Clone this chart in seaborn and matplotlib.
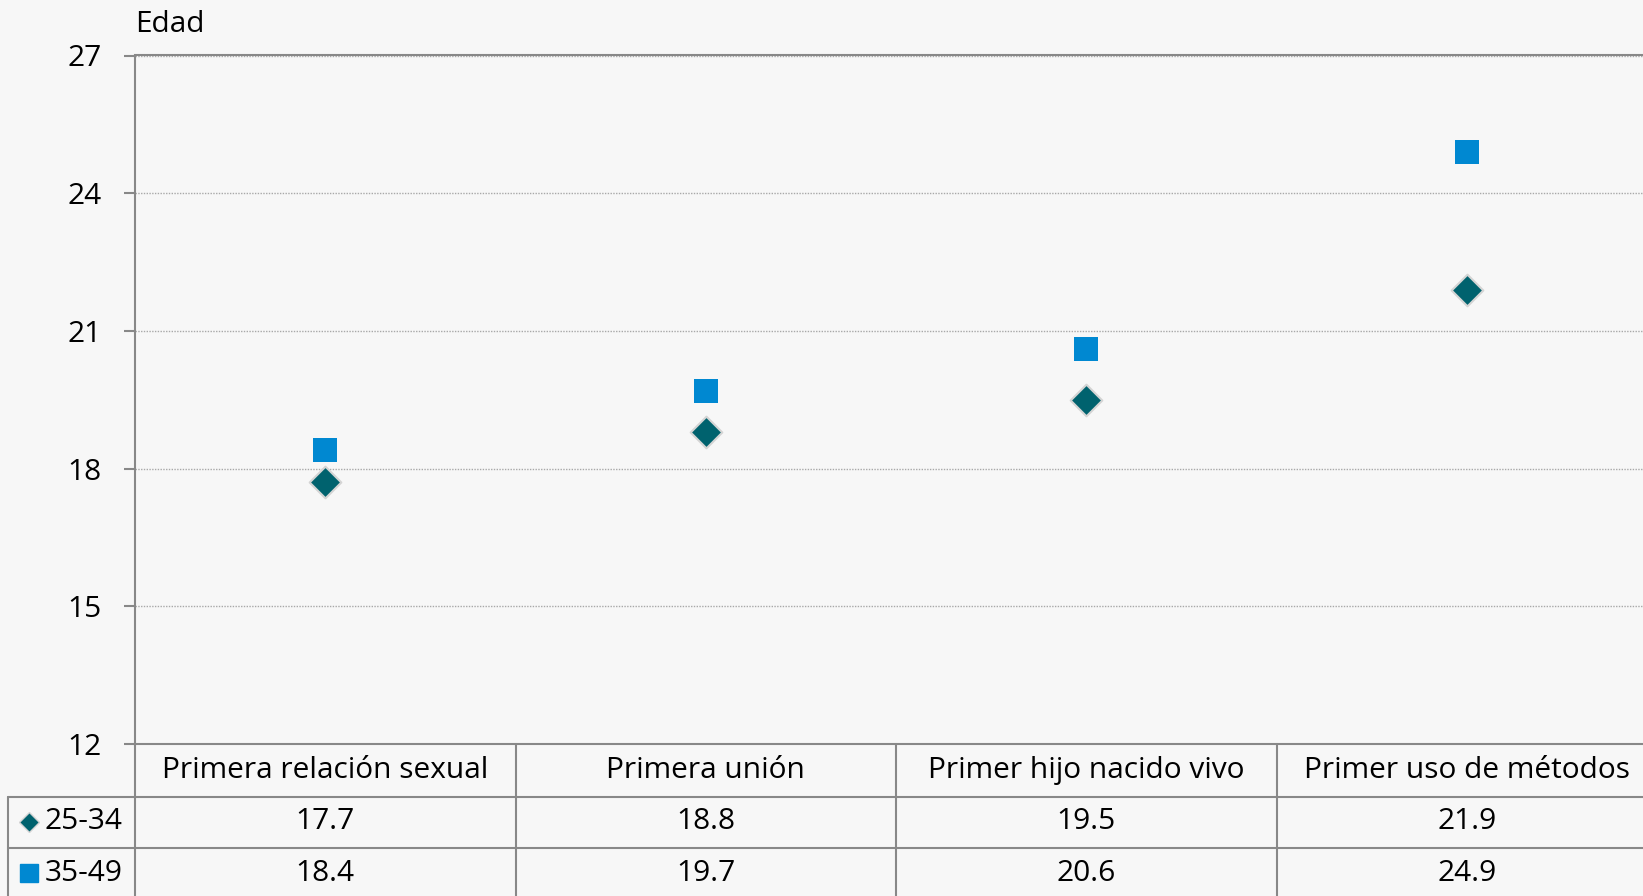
import numpy as np
import pandas as pd
import matplotlib.pyplot as plt
import seaborn as sns
from matplotlib import transforms

#%% datos
categorias = ['Primera relación sexual', 'Primera unión', 'Primer hijo nacido vivo', 'Primer uso de métodos']
grupos = ['25-34', '35-49']
edad_25_34 = [17.7, 18.8, 19.5, 21.9]
edad_35_49 = [18.4, 19.7, 20.6, 24.9]
y_ticks = [12, 15, 18, 21, 24, 27]

colores = {'25-34': '#00626E', '35-49': '#0088D1'}
marcadores = {'25-34': 'D', '35-49': 's'}
tamanos = {'25-34': 260, '35-49': 300}
bordes = {'25-34': '#D4D4D4', '35-49': 'none'}

df = pd.DataFrame({
    'categoria': categorias * 2,
    'grupo': [grupos[0]] * 4 + [grupos[1]] * 4,
    'edad': edad_25_34 + edad_35_49,
})

#%% estilo
sns.set_style('white')
plt.rcParams['font.family'] = ['Open Sans', 'DejaVu Sans']
plt.rcParams['text.color'] = 'black'
plt.rcParams['ytick.labelcolor'] = 'black'
FS = 21.5
fondo = '#F7F7F7'
gris = '#888888'

fig = plt.figure(figsize=(16.43, 8.96), dpi=100, facecolor=fondo)
ax = fig.add_axes([135 / 1643, 1 - 744 / 896, 1522 / 1643, (744 - 55.5) / 896])
ax.set_facecolor(fondo)

for g in grupos:
    sns.scatterplot(data=df[df['grupo'] == g], x='categoria', y='edad', ax=ax,
                    marker=marcadores[g], color=colores[g], s=tamanos[g],
                    edgecolor=bordes[g], linewidth=1.5, zorder=3, legend=False)

ax.set_xlim(-0.5, 3.5)
ax.set_ylim(12, 27)
ax.set_yticks(y_ticks)
ax.set_xlabel('')
ax.set_ylabel('')
ax.tick_params(axis='x', bottom=False, labelbottom=False)
ax.tick_params(axis='y', left=True, direction='out', length=8, width=1.5,
               color=gris, pad=16, labelsize=FS, labelcolor='black')
ax.yaxis.grid(True, linestyle=(0, (1, 1)), color='#A8A8A8', linewidth=1)
for s in ['left', 'top', 'bottom']:
    ax.spines[s].set_color(gris)
    ax.spines[s].set_linewidth(1.5)
ax.spines['right'].set_visible(False)

fig.text(135 / 1643, 1 - 25 / 896, 'Edad', ha='left', va='center', fontsize=FS)

#%% tabla de datos
trans = transforms.blended_transform_factory(ax.transData, ax.transAxes)
alto = 688.5
y_l1 = -53 / alto
y_l2 = -104 / alto
x_izq = (8.4 - 135) / 1522
lw = 1.5

ax.plot([x_izq, 1], [y_l1, y_l1], color=gris, lw=lw, transform=ax.transAxes, clip_on=False)
ax.plot([x_izq, 1], [y_l2, y_l2], color=gris, lw=lw, transform=ax.transAxes, clip_on=False)
ax.plot([x_izq, x_izq], [y_l1, -0.3], color=gris, lw=lw, transform=ax.transAxes, clip_on=False)
ax.plot([0, 0], [0, -0.3], color=gris, lw=lw, transform=ax.transAxes, clip_on=False)
for i in range(len(categorias) - 1):
    ax.plot([i + 0.5, i + 0.5], [0, -0.3], color=gris, lw=lw, transform=trans, clip_on=False)

y_cab = -(770 - 744) / alto
y_filas = [-(821.6 - 744) / alto, -(873 - 744) / alto]
for i, c in enumerate(categorias):
    ax.text(i, y_cab, c, transform=trans, ha='center', va='center', fontsize=FS)
for j, (g, vals) in enumerate(zip(grupos, [edad_25_34, edad_35_49])):
    for i, v in enumerate(vals):
        ax.text(i, y_filas[j], f'{v:.1f}', transform=trans, ha='center', va='center', fontsize=FS)
    ax.text((45 - 135) / 1522, y_filas[j], g, transform=ax.transAxes, ha='left', va='center', fontsize=FS)
    ax.plot([(29 - 135) / 1522], [y_filas[j]], marker=marcadores[g], color=colores[g],
            markersize=10 if g == '25-34' else 13, markeredgecolor=bordes[g] if g == '25-34' else colores[g],
            markeredgewidth=1, transform=ax.transAxes, clip_on=False, linestyle='none')

fig.savefig('out.png', dpi=100, facecolor=fondo)
